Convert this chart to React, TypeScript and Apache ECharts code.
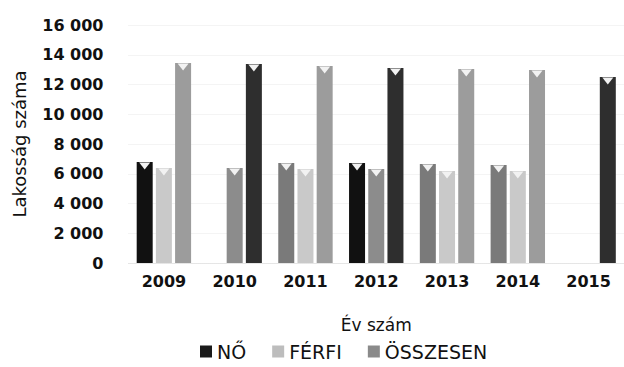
import React, { useEffect, useRef } from "react";
import * as echarts from "echarts";

const years = ["2009", "2010", "2011", "2012", "2013", "2014", "2015"];
const noValues = [6790, null, 6720, 6720, 6650, 6590, null];
const ferfiValues = [6390, 6390, 6320, 6320, 6190, 6190, null];
const osszesenValues = [13450, 13380, 13240, 13110, 13040, 12980, 12500];
const yTicks = [0, 2000, 4000, 6000, 8000, 10000, 12000, 14000, 16000];

const noColors = ["#111111", "#111111", "#7a7a7a", "#111111", "#7a7a7a", "#7a7a7a", "#111111"];
const ferfiColors = ["#c9c9c9", "#8c8c8c", "#c9c9c9", "#8c8c8c", "#c9c9c9", "#c9c9c9", "#c9c9c9"];
const osszColors = ["#9c9c9c", "#2e2e2e", "#9c9c9c", "#2e2e2e", "#9c9c9c", "#9c9c9c", "#2e2e2e"];

const FONT = "DejaVu Sans";

function fmt(v: number) {
  if (v < 1000) return String(v);
  const s = String(v);
  return s.slice(0, s.length - 3) + " " + s.slice(s.length - 3);
}

export default function App() {
  const ref = useRef<HTMLDivElement>(null);
  useEffect(() => {
    if (!ref.current) return;
    const chart = echarts.init(ref.current, undefined, { renderer: "svg" });
    const mk = (vals: (number | null)[], cols: string[]) =>
      vals.map((v, i) => ({ value: v, itemStyle: { color: cols[i] } }));
    const notches = (vals: (number | null)[]) => ({
      symbol: "triangle",
      symbolRotate: 180,
      symbolSize: [11, 7],
      symbolOffset: [0, 4],
      silent: true,
      label: { show: false },
      itemStyle: { color: "#f2f2f2" },
      data: vals
        .map((v, i) => (v == null ? null : { coord: [years[i], v] }))
        .filter((d) => d != null),
    });
    chart.setOption({
      animation: false,
      backgroundColor: "#ffffff",
      grid: { left: 128.5, top: 25, width: 511, bottom: 104, containLabel: false },
      legend: {
        left: 195,
        top: 337,
        itemWidth: 12,
        itemHeight: 12,
        itemGap: 26,
        icon: "rect",
        textStyle: { fontFamily: FONT, fontSize: 19, color: "#111" },
        data: [
          { name: "NŐ", itemStyle: { color: "#1a1a1a" } },
          { name: "FÉRFI", itemStyle: { color: "#bdbdbd" } },
          { name: "ÖSSZESEN", itemStyle: { color: "#8a8a8a" } },
        ],
      },
      xAxis: {
        type: "category",
        data: years,
        name: "Év szám",
        nameLocation: "middle",
        nameGap: 53,
        nameTextStyle: { fontFamily: FONT, fontSize: 17, color: "#111" },
        axisLine: { show: true, lineStyle: { color: "#e4e4e4", type: "dotted" } },
        axisTick: { show: false },
        axisLabel: { fontFamily: FONT, fontSize: 16, fontWeight: "bold", color: "#111", margin: 10 },
      },
      yAxis: {
        type: "value",
        min: yTicks[0],
        max: yTicks[yTicks.length - 1],
        interval: yTicks[1] - yTicks[0],
        name: "Lakosság száma",
        nameLocation: "middle",
        nameGap: 100,
        nameTextStyle: { fontFamily: FONT, fontSize: 18, color: "#111" },
        axisLine: { show: false },
        axisTick: { show: false },
        axisLabel: {
          fontFamily: FONT,
          fontSize: 16,
          fontWeight: "bold",
          color: "#111",
          margin: 25,
          formatter: (v: number) => fmt(v),
        },
        splitLine: { show: true, lineStyle: { color: "#e8e8e8", type: "dotted" } },
      },
      series: [
        { name: "NŐ", type: "bar", barWidth: 16, barGap: "20%", itemStyle: { color: "#1a1a1a" }, data: mk(noValues, noColors), markPoint: notches(noValues) },
        { name: "FÉRFI", type: "bar", barWidth: 16, barGap: "20%", itemStyle: { color: "#bdbdbd" }, data: mk(ferfiValues, ferfiColors), markPoint: notches(ferfiValues) },
        { name: "ÖSSZESEN", type: "bar", barWidth: 16, barGap: "20%", itemStyle: { color: "#8a8a8a" }, data: mk(osszesenValues, osszColors), markPoint: notches(osszesenValues) },
      ],
    });
    return () => chart.dispose();
  }, []);
  return (
    <div
      ref={ref}
      style={{ position: "fixed", left: 0, top: 0, width: 624, height: 367, overflow: "hidden" }}
    />
  );
}
